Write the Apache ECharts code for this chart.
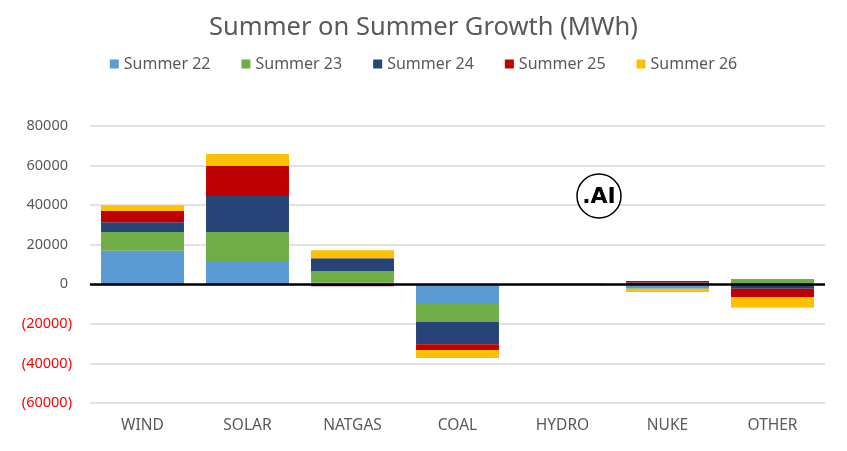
<!DOCTYPE html>
<html><head><meta charset="utf-8">
<script src="https://cdn.jsdelivr.net/npm/echarts@6/dist/echarts.min.js"></script>
<style>html,body{margin:0;padding:0;background:#fff}#c{width:847px;height:451px}</style>
</head><body><div id="c"></div>
<script>
const categories = ['WIND','SOLAR','NATGAS','COAL','HYDRO','NUKE','OTHER'];
const seriesNames = ['Summer 22','Summer 23','Summer 24','Summer 25','Summer 26'];
const summer22 = [17000, 11300, 800, -9400, 0, -2200, 0];
const summer23 = [9400, 15100, 5900, -9600, 0, 0, 2700];
const summer24 = [5000, 18200, 6500, -11300, 0, 900, -2200];
const summer25 = [5600, 15200, -1000, -2900, 0, 700, -4200];
const summer26 = [3000, 6100, 4000, -4000, 500, -1700, -5500];
const colors = ['#5B9BD5','#70AD47','#264478','#C00000','#FFC000'];
const yTicks = {min: -60000, max: 80000, interval: 20000};

const FONT = '"Noto Sans", sans-serif';
const chart = echarts.init(document.getElementById('c'));
const dataSets = [summer22, summer23, summer24, summer25, summer26];
const series = dataSets.map((d, i) => ({
  name: seriesNames[i], type: 'bar', stack: 'total', data: d,
  barWidth: '79%', itemStyle: {color: colors[i]},
  emphasis: {disabled: true}
}));
series[0].markLine = {
  silent: true, symbol: 'none', label: {show: false},
  lineStyle: {color: '#000', width: 2.5, type: 'solid'},
  data: [{yAxis: 0}], z: 10
};
chart.setOption({
  animation: false,
  color: colors,
  title: {text: 'Summer on Summer Growth (MWh)', left: 'center', top: 10,
    textStyle: {fontFamily: FONT, fontSize: 25.5, fontWeight: 'normal', color: '#595959'}},
  legend: {data: seriesNames, top: 51, left: 'center', itemWidth: 9, itemHeight: 9, itemGap: 31,
    icon: 'rect', textStyle: {fontFamily: FONT, fontSize: 16, color: '#595959'}},
  grid: {left: 90, right: 22, top: 126, bottom: 48, containLabel: false},
  xAxis: {type: 'category', data: categories, position: 'bottom',
    axisLine: {show: false}, axisTick: {show: false},
    axisLabel: {fontFamily: FONT, fontSize: 15.5, color: '#595959', margin: 15}},
  yAxis: {type: 'value', min: yTicks.min, max: yTicks.max, interval: yTicks.interval,
    axisLine: {show: false}, axisTick: {show: false},
    splitLine: {lineStyle: {color: '#D9D9D9', width: 1.5}},
    axisLabel: {margin: 18, fontFamily: FONT, fontSize: 14.5,
      formatter: v => v < 0 ? '{n|(' + (-v) + ')}' : '{p|' + v + '}',
      rich: {p: {fontFamily: FONT, fontSize: 14.5, color: '#595959', padding: [0, 4, 0, 0]},
             n: {fontFamily: FONT, fontSize: 14.5, color: '#FF0000'}}}},
  graphic: [
    {type: 'circle', shape: {cx: 599, cy: 196, r: 22}, style: {fill: '#fff', stroke: '#000', lineWidth: 1.5}, z: 100},
    {type: 'text', x: 599, y: 197, style: {text: '.AI', fontFamily: '"DejaVu Sans", sans-serif', fontWeight: 'bold', fontSize: 22, fill: '#000', align: 'center', verticalAlign: 'middle'}, z: 101}
  ],
  series: series
});
</script></body></html>
